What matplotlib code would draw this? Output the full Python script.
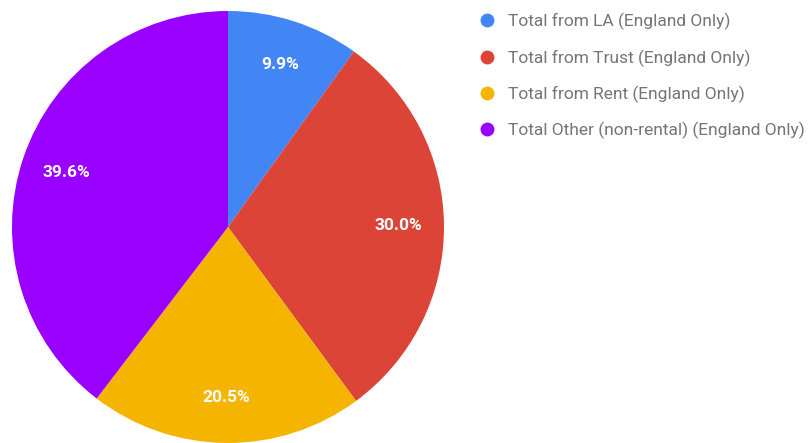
import matplotlib
matplotlib.use("Agg")
import matplotlib.pyplot as plt
from matplotlib.lines import Line2D

labels = ["Total from LA (England Only)", "Total from Trust (England Only)",
          "Total from Rent (England Only)", "Total Other (non-rental) (England Only)"]
values = [9.9, 30.0, 20.5, 39.6]
colors = ["#4285f4", "#db4437", "#f4b400", "#9900ff"]

plt.rcParams['font.family'] = ['Roboto', 'DejaVu Sans']
W, H = 808, 443
fig = plt.figure(figsize=(W/100, H/100), dpi=100)
ax = fig.add_axes([12/W, 0/H, 432/W, 432/H])
wedges, texts, autotexts = ax.pie(values, colors=colors, startangle=90, counterclock=False,
       autopct='%1.1f%%', pctdistance=0.79, radius=1.0,
       wedgeprops=dict(linewidth=0), textprops=dict(color='white', fontsize=12.5, fontweight='bold'))
ax.set_xlim(-1, 1); ax.set_ylim(-1, 1)
ax.set_aspect('equal')

handles = [Line2D([0], [0], marker='o', linestyle='', markersize=10, markerfacecolor=c,
                  markeredgewidth=0) for c in colors]
leg = fig.legend(handles, labels, loc='upper left', bbox_to_anchor=(478/W, 1 - 13/H),
                 frameon=False, fontsize=12.5, labelcolor='#757575', handletextpad=0.7,
                 labelspacing=1.1, handlelength=1.0, borderaxespad=0, borderpad=0)
fig.savefig("out.png", dpi=100)
